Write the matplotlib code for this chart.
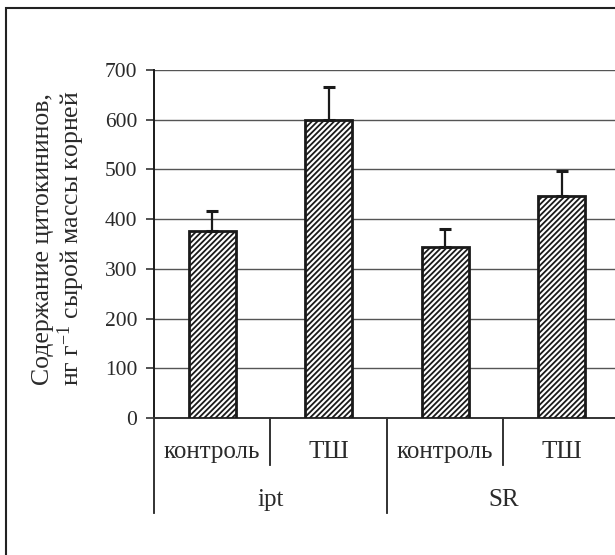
import numpy as np
import matplotlib
matplotlib.use("Agg")
import matplotlib.pyplot as plt
from matplotlib.patches import Rectangle
import matplotlib.transforms as mtransforms

plt.rcParams['font.family'] = ['Liberation Serif', 'DejaVu Serif']
plt.rcParams['mathtext.fontset'] = 'custom'
plt.rcParams['mathtext.rm'] = 'Liberation Serif'
plt.rcParams['mathtext.it'] = 'Liberation Serif:italic'
plt.rcParams['hatch.linewidth'] = 1.3

# данные
groups = ['ipt', 'SR']
variants = ['контроль', 'ТШ']
values = [377, 600, 344, 447]
errors = [39, 66, 36, 50]
yticks = [0, 100, 200, 300, 400, 500, 600, 700]

txt = '#2a2a2a'

fig = plt.figure(figsize=(6.15, 5.55), dpi=100)
ax = fig.add_axes([0.2504, 0.2468, 0.7577, 0.6271])

x = np.arange(len(values))
ax.bar(x, values, width=0.4, color='white', edgecolor='#1a1a1a',
       linewidth=2, hatch='//////', zorder=3)
ax.errorbar(x, values, yerr=[np.zeros(len(errors)), errors], fmt='none',
            ecolor='#1a1a1a', elinewidth=1.6, capsize=4.5, capthick=2.2, zorder=4)

ax.set_xlim(-0.5, len(values) - 0.5)
ax.set_ylim(0, 700)
ax.set_yticks(yticks)
ax.set_xticks([])
ax.yaxis.grid(True, color='#555555', linewidth=1.0, zorder=0)
ax.set_axisbelow(True)
for s in ['top', 'right']:
    ax.spines[s].set_visible(False)
ax.spines['left'].set_color('#1a1a1a')
ax.spines['left'].set_linewidth(1.4)
ax.spines['bottom'].set_color('#333333')
ax.spines['bottom'].set_linewidth(1.4)
ax.tick_params(axis='y', direction='out', length=6, width=1.2, color='#333333',
               labelsize=15.5, labelcolor=txt, pad=6)

# подписи категорий в два уровня
tr = mtransforms.blended_transform_factory(ax.transData, ax.transAxes)
n_var = len(variants)
for i in range(len(values)):
    ax.text(i, -0.098, variants[i % n_var], transform=tr, ha='center', va='center',
            fontsize=18, color=txt)
for g in range(len(groups)):
    ax.text(g * n_var + (n_var - 1) / 2, -0.236, groups[g], transform=tr,
            ha='center', va='center', fontsize=18, color=txt)
for i in range(len(values)):
    low = -0.273 if i % n_var == 0 else -0.135
    ax.plot([i - 0.5, i - 0.5], [0, low], transform=tr, color='#222222',
            linewidth=1.3, clip_on=False)

fig.text(0.070, 0.570, 'Содержание цитокининов,', rotation=90, ha='center',
         va='center', fontsize=18.5, color=txt)
fig.text(0.116, 0.570, 'нг г$^{-1}$ сырой массы корней', rotation=90, ha='center',
         va='center', fontsize=18.5, color=txt)

fig.patches.append(Rectangle((6 / 615, -0.5), 2, 1.5 - 8 / 555, transform=fig.transFigure,
                             fill=False, edgecolor='#222222', linewidth=1.5))

fig.savefig('out.png', dpi=100)
